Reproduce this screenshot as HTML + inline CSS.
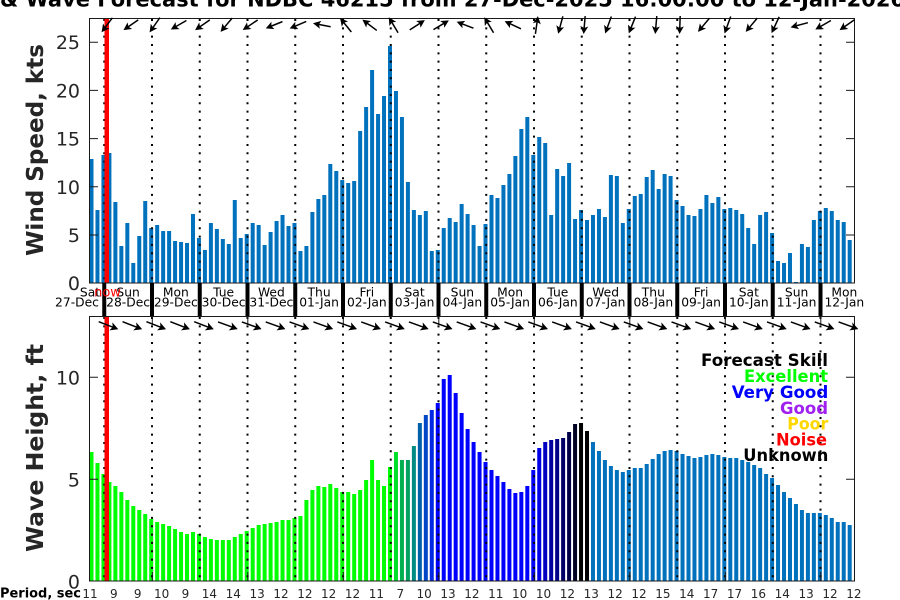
<!DOCTYPE html>
<html><head><meta charset="utf-8"><style>html,body{margin:0;padding:0;background:#fff}svg{display:block}text{font-family:"DejaVu Sans","Liberation Sans",sans-serif}</style></head>
<body>
<svg width="900" height="600" viewBox="0 0 900 600" xmlns="http://www.w3.org/2000/svg">
<defs>
<g id="wa"><line x1="-9" y1="0" x2="4" y2="0" stroke="#000" stroke-width="1.5"/><polygon points="9,0 1.2,-4 3,0 1.2,4" fill="#000"/></g>
<g id="va"><line x1="-10.5" y1="0" x2="5" y2="0" stroke="#000" stroke-width="1.5"/><polygon points="10.5,0 2.5,-4.3 4.5,0 2.5,4.3" fill="#000"/></g>
</defs>
<rect width="900" height="600" fill="#fff"/>
<text x="-6" y="6.7" font-size="21" font-weight="bold" text-anchor="end">Wind</text>
<text x="0" y="6.7" font-size="21" font-weight="bold" textLength="905" lengthAdjust="spacingAndGlyphs">&amp; Wave Forecast for NDBC 46215 from 27-Dec-2025 16:00:00 to 12-Jan-2026</text>

<!-- TOP BARS -->
<g fill="#0072bd">
<rect x="89.5" y="159" width="4" height="124"/><rect x="95.47" y="210" width="4" height="73"/><rect x="101.44" y="155" width="4" height="128"/><rect x="107.41" y="153" width="4" height="130"/><rect x="113.38" y="202" width="4" height="81"/><rect x="119.35" y="246" width="4" height="37"/><rect x="125.32" y="223" width="4" height="60"/><rect x="131.29" y="263" width="4" height="20"/><rect x="137.26" y="236" width="4" height="47"/><rect x="143.23" y="201" width="4" height="82"/>
<rect x="149.2" y="228" width="4" height="55"/><rect x="155.17" y="225" width="4" height="58"/><rect x="161.14" y="231" width="4" height="52"/><rect x="167.11" y="231" width="4" height="52"/><rect x="173.08" y="241" width="4" height="42"/><rect x="179.05" y="242" width="4" height="41"/><rect x="185.02" y="243" width="4" height="40"/><rect x="190.99" y="214" width="4" height="69"/><rect x="196.96" y="238" width="4" height="45"/><rect x="202.93" y="250" width="4" height="33"/>
<rect x="208.9" y="223" width="4" height="60"/><rect x="214.87" y="229" width="4" height="54"/><rect x="220.84" y="239" width="4" height="44"/><rect x="226.81" y="244" width="4" height="39"/><rect x="232.78" y="200" width="4" height="83"/><rect x="238.75" y="238" width="4" height="45"/><rect x="244.72" y="234" width="4" height="49"/><rect x="250.69" y="223" width="4" height="60"/><rect x="256.66" y="225" width="4" height="58"/><rect x="262.63" y="245" width="4" height="38"/>
<rect x="268.6" y="232" width="4" height="51"/><rect x="274.57" y="221" width="4" height="62"/><rect x="280.54" y="215" width="4" height="68"/><rect x="286.51" y="226" width="4" height="57"/><rect x="292.48" y="223" width="4" height="60"/><rect x="298.45" y="251" width="4" height="32"/><rect x="304.42" y="246" width="4" height="37"/><rect x="310.39" y="212" width="4" height="71"/><rect x="316.36" y="199" width="4" height="84"/><rect x="322.33" y="195" width="4" height="88"/>
<rect x="328.3" y="164" width="4" height="119"/><rect x="334.27" y="171" width="4" height="112"/><rect x="340.24" y="180" width="4" height="103"/><rect x="346.21" y="183" width="4" height="100"/><rect x="352.18" y="181" width="4" height="102"/><rect x="358.15" y="131" width="4" height="152"/><rect x="364.12" y="107" width="4" height="176"/><rect x="370.09" y="70" width="4" height="213"/><rect x="376.06" y="114" width="4" height="169"/><rect x="382.03" y="96" width="4" height="187"/>
<rect x="388" y="46" width="4" height="237"/><rect x="393.97" y="91" width="4" height="192"/><rect x="399.94" y="117" width="4" height="166"/><rect x="405.91" y="182" width="4" height="101"/><rect x="411.88" y="210" width="4" height="73"/><rect x="417.85" y="215" width="4" height="68"/><rect x="423.82" y="211" width="4" height="72"/><rect x="429.79" y="251" width="4" height="32"/><rect x="435.76" y="250" width="4" height="33"/><rect x="441.73" y="228" width="4" height="55"/>
<rect x="447.7" y="218" width="4" height="65"/><rect x="453.67" y="222" width="4" height="61"/><rect x="459.64" y="204" width="4" height="79"/><rect x="465.61" y="214" width="4" height="69"/><rect x="471.58" y="225" width="4" height="58"/><rect x="477.55" y="246" width="4" height="37"/><rect x="483.52" y="224" width="4" height="59"/><rect x="489.49" y="195" width="4" height="88"/><rect x="495.46" y="198" width="4" height="85"/><rect x="501.43" y="185" width="4" height="98"/>
<rect x="507.4" y="174" width="4" height="109"/><rect x="513.37" y="156" width="4" height="127"/><rect x="519.34" y="129" width="4" height="154"/><rect x="525.31" y="117" width="4" height="166"/><rect x="531.28" y="155" width="4" height="128"/><rect x="537.25" y="137" width="4" height="146"/><rect x="543.22" y="143" width="4" height="140"/><rect x="549.19" y="215" width="4" height="68"/><rect x="555.16" y="169" width="4" height="114"/><rect x="561.13" y="176" width="4" height="107"/>
<rect x="567.1" y="163" width="4" height="120"/><rect x="573.07" y="219" width="4" height="64"/><rect x="579.04" y="210" width="4" height="73"/><rect x="585.01" y="220" width="4" height="63"/><rect x="590.98" y="215" width="4" height="68"/><rect x="596.95" y="209" width="4" height="74"/><rect x="602.92" y="217" width="4" height="66"/><rect x="608.89" y="175" width="4" height="108"/><rect x="614.86" y="176" width="4" height="107"/><rect x="620.83" y="223" width="4" height="60"/>
<rect x="626.8" y="209" width="4" height="74"/><rect x="632.77" y="196" width="4" height="87"/><rect x="638.74" y="194" width="4" height="89"/><rect x="644.71" y="177" width="4" height="106"/><rect x="650.68" y="170" width="4" height="113"/><rect x="656.65" y="189" width="4" height="94"/><rect x="662.62" y="174" width="4" height="109"/><rect x="668.59" y="176" width="4" height="107"/><rect x="674.56" y="200" width="4" height="83"/><rect x="680.53" y="206" width="4" height="77"/>
<rect x="686.5" y="215" width="4" height="68"/><rect x="692.47" y="216" width="4" height="67"/><rect x="698.44" y="209" width="4" height="74"/><rect x="704.41" y="195" width="4" height="88"/><rect x="710.38" y="203" width="4" height="80"/><rect x="716.35" y="197" width="4" height="86"/><rect x="722.32" y="209" width="4" height="74"/><rect x="728.29" y="208" width="4" height="75"/><rect x="734.26" y="210" width="4" height="73"/><rect x="740.23" y="214" width="4" height="69"/>
<rect x="746.2" y="228" width="4" height="55"/><rect x="752.17" y="244" width="4" height="39"/><rect x="758.14" y="215" width="4" height="68"/><rect x="764.11" y="212" width="4" height="71"/><rect x="770.08" y="233" width="4" height="50"/><rect x="776.05" y="261" width="4" height="22"/><rect x="782.02" y="263" width="4" height="20"/><rect x="787.99" y="253" width="4" height="30"/><rect x="793.96" y="282" width="4" height="1"/><rect x="799.93" y="244" width="4" height="39"/>
<rect x="805.9" y="247" width="4" height="36"/><rect x="811.87" y="220" width="4" height="63"/><rect x="817.84" y="211" width="4" height="72"/><rect x="823.81" y="208" width="4" height="75"/><rect x="829.78" y="211" width="4" height="72"/><rect x="835.75" y="220" width="4" height="63"/><rect x="841.72" y="222" width="4" height="61"/><rect x="847.69" y="240" width="4" height="43"/>
</g>

<!-- BOTTOM BARS -->
<g fill="#00ff00">
<rect x="89.5" y="452" width="4" height="129"/><rect x="95.47" y="463" width="4" height="118"/><rect x="101.44" y="474" width="4" height="107"/><rect x="107.41" y="482" width="4" height="99"/><rect x="113.38" y="486" width="4" height="95"/><rect x="119.35" y="492" width="4" height="89"/><rect x="125.32" y="500" width="4" height="81"/><rect x="131.29" y="506" width="4" height="75"/><rect x="137.26" y="510" width="4" height="71"/><rect x="143.23" y="514" width="4" height="67"/>
<rect x="149.2" y="519" width="4" height="62"/><rect x="155.17" y="522" width="4" height="59"/><rect x="161.14" y="524" width="4" height="57"/><rect x="167.11" y="526" width="4" height="55"/><rect x="173.08" y="529" width="4" height="52"/><rect x="179.05" y="532" width="4" height="49"/><rect x="185.02" y="534" width="4" height="47"/><rect x="190.99" y="532" width="4" height="49"/><rect x="196.96" y="534" width="4" height="47"/><rect x="202.93" y="537" width="4" height="44"/>
<rect x="208.9" y="539" width="4" height="42"/><rect x="214.87" y="540" width="4" height="41"/><rect x="220.84" y="540" width="4" height="41"/><rect x="226.81" y="540" width="4" height="41"/><rect x="232.78" y="537" width="4" height="44"/><rect x="238.75" y="534" width="4" height="47"/><rect x="244.72" y="531" width="4" height="50"/><rect x="250.69" y="528" width="4" height="53"/><rect x="256.66" y="525" width="4" height="56"/><rect x="262.63" y="524" width="4" height="57"/>
<rect x="268.6" y="523" width="4" height="58"/><rect x="274.57" y="522" width="4" height="59"/><rect x="280.54" y="520" width="4" height="61"/><rect x="286.51" y="520" width="4" height="61"/><rect x="292.48" y="518" width="4" height="63"/><rect x="298.45" y="516" width="4" height="65"/><rect x="304.42" y="500" width="4" height="81"/><rect x="310.39" y="490" width="4" height="91"/><rect x="316.36" y="486" width="4" height="95"/><rect x="322.33" y="487" width="4" height="94"/>
<rect x="328.3" y="484" width="4" height="97"/><rect x="334.27" y="488" width="4" height="93"/><rect x="340.24" y="492" width="4" height="89"/><rect x="346.21" y="492" width="4" height="89"/><rect x="352.18" y="494" width="4" height="87"/><rect x="358.15" y="490" width="4" height="91"/><rect x="364.12" y="480" width="4" height="101"/><rect x="370.09" y="460" width="4" height="121"/><rect x="376.06" y="480" width="4" height="101"/><rect x="382.03" y="486" width="4" height="95"/>
<rect x="388" y="467" width="4" height="114"/>
</g>
<rect x="393.97" y="452" width="4" height="129" fill="#00e028"/>
<rect x="399.94" y="460" width="4" height="121" fill="#00b050"/>
<rect x="405.91" y="460" width="4" height="121" fill="#00a060"/>
<rect x="411.88" y="446" width="4" height="135" fill="#008a84"/>
<rect x="417.85" y="423" width="4" height="158" fill="#0060a8"/>
<rect x="423.82" y="415" width="4" height="166" fill="#0048c8"/>
<rect x="429.79" y="410" width="4" height="171" fill="#0028e4"/>
<g fill="#0000ff">
<rect x="435.76" y="403" width="4" height="178"/><rect x="441.73" y="379" width="4" height="202"/><rect x="447.7" y="375" width="4" height="206"/><rect x="453.67" y="393" width="4" height="188"/><rect x="459.64" y="413" width="4" height="168"/><rect x="465.61" y="429" width="4" height="152"/><rect x="471.58" y="442" width="4" height="139"/><rect x="477.55" y="452" width="4" height="129"/><rect x="483.52" y="462" width="4" height="119"/><rect x="489.49" y="470" width="4" height="111"/>
<rect x="495.46" y="476" width="4" height="105"/><rect x="501.43" y="482" width="4" height="99"/><rect x="507.4" y="489" width="4" height="92"/><rect x="513.37" y="493" width="4" height="88"/><rect x="519.34" y="492" width="4" height="89"/><rect x="525.31" y="486" width="4" height="95"/><rect x="531.28" y="470" width="4" height="111"/>
</g>
<rect x="537.25" y="448" width="4" height="133" fill="#0000e6"/>
<rect x="543.22" y="442" width="4" height="139" fill="#0000c0"/>
<rect x="549.19" y="440" width="4" height="141" fill="#0000a0"/>
<rect x="555.16" y="439" width="4" height="142" fill="#000088"/>
<rect x="561.13" y="438" width="4" height="143" fill="#000068"/>
<rect x="567.1" y="432" width="4" height="149" fill="#000048"/>
<rect x="573.07" y="424" width="4" height="157" fill="#000024"/>
<rect x="579.04" y="423" width="4" height="158" fill="#000000"/>
<rect x="585.01" y="431" width="4" height="150" fill="#000000"/>
<g fill="#0072bd">
<rect x="590.98" y="442" width="4" height="139"/><rect x="596.95" y="451" width="4" height="130"/><rect x="602.92" y="460" width="4" height="121"/><rect x="608.89" y="466" width="4" height="115"/><rect x="614.86" y="470" width="4" height="111"/><rect x="620.83" y="472" width="4" height="109"/>
<rect x="626.8" y="470" width="4" height="111"/><rect x="632.77" y="468" width="4" height="113"/><rect x="638.74" y="468" width="4" height="113"/><rect x="644.71" y="464" width="4" height="117"/><rect x="650.68" y="459" width="4" height="122"/><rect x="656.65" y="454" width="4" height="127"/><rect x="662.62" y="451" width="4" height="130"/><rect x="668.59" y="450" width="4" height="131"/><rect x="674.56" y="451" width="4" height="130"/><rect x="680.53" y="454" width="4" height="127"/>
<rect x="686.5" y="456" width="4" height="125"/><rect x="692.47" y="458" width="4" height="123"/><rect x="698.44" y="457" width="4" height="124"/><rect x="704.41" y="455" width="4" height="126"/><rect x="710.38" y="454" width="4" height="127"/><rect x="716.35" y="455" width="4" height="126"/><rect x="722.32" y="457" width="4" height="124"/><rect x="728.29" y="458" width="4" height="123"/><rect x="734.26" y="458" width="4" height="123"/><rect x="740.23" y="460" width="4" height="121"/>
<rect x="746.2" y="462" width="4" height="119"/><rect x="752.17" y="465" width="4" height="116"/><rect x="758.14" y="468" width="4" height="113"/><rect x="764.11" y="474" width="4" height="107"/><rect x="770.08" y="478" width="4" height="103"/><rect x="776.05" y="485" width="4" height="96"/><rect x="782.02" y="492" width="4" height="89"/><rect x="787.99" y="498" width="4" height="83"/><rect x="793.96" y="504" width="4" height="77"/><rect x="799.93" y="510" width="4" height="71"/>
<rect x="805.9" y="513" width="4" height="68"/><rect x="811.87" y="513" width="4" height="68"/><rect x="817.84" y="513" width="4" height="68"/><rect x="823.81" y="515" width="4" height="66"/><rect x="829.78" y="518" width="4" height="63"/><rect x="835.75" y="522" width="4" height="59"/><rect x="841.72" y="522" width="4" height="59"/><rect x="847.69" y="525" width="4" height="56"/>
</g>

<!-- DOTTED DAY LINES -->
<g stroke="#000" stroke-width="2" stroke-dasharray="2 6.33">
<path d="M104.25 19V283M152 19V283M199.75 19V283M247.5 19V283M295.25 19V283M343 19V283M390.75 19V283M438.5 19V283M486.25 19V283M534 19V283M581.75 19V283M629.5 19V283M677.25 19V283M725 19V283M772.75 19V283M820.5 19V283"/>
<path d="M104.25 317V581M152 317V581M199.75 317V581M247.5 317V581M295.25 317V581M343 317V581M390.75 317V581M438.5 317V581M486.25 317V581M534 317V581M581.75 317V581M629.5 317V581M677.25 317V581M725 317V581M772.75 317V581M820.5 317V581"/>
</g>

<!-- NOW LINE -->
<rect x="104.5" y="18" width="4.5" height="265" fill="#ff0000"/>
<rect x="104.5" y="316" width="4.5" height="265" fill="#ff0000"/>

<!-- AXES FRAMES -->
<g fill="none" stroke="#1a1a1a" stroke-width="1">
<rect x="89.5" y="18.5" width="765" height="264.5"/>
<rect x="89.5" y="316.5" width="765" height="264.5"/>
<path d="M89.5 235H98M89.5 186.8H98M89.5 138.6H98M89.5 90.4H98M89.5 42.2H98M854.5 235H846M854.5 186.8H846M854.5 138.6H846M854.5 90.4H846M854.5 42.2H846"/>
<path d="M89.5 479.3H98M89.5 377.3H98M854.5 479.3H846M854.5 377.3H846"/>
<path d="M152.3 581V572M247.8 581V572M343.3 581V572M438.8 581V572M534.3 581V572M629.8 581V572M725.3 581V572M820.8 581V572"/>
<path d="M152.3 316V325M247.8 316V325M343.3 316V325M438.8 316V325M534.3 316V325M629.8 316V325M725.3 316V325M820.8 316V325"/>
</g>

<!-- DAY SEPARATORS -->
<g fill="#000">
<rect x="102.25" y="283" width="4" height="33"/><rect x="150" y="283" width="4" height="33"/><rect x="197.75" y="283" width="4" height="33"/><rect x="245.5" y="283" width="4" height="33"/><rect x="293.25" y="283" width="4" height="33"/><rect x="341" y="283" width="4" height="33"/><rect x="388.75" y="283" width="4" height="33"/><rect x="436.5" y="283" width="4" height="33"/><rect x="484.25" y="283" width="4" height="33"/><rect x="532" y="283" width="4" height="33"/><rect x="579.75" y="283" width="4" height="33"/><rect x="627.5" y="283" width="4" height="33"/><rect x="675.25" y="283" width="4" height="33"/><rect x="723" y="283" width="4" height="33"/><rect x="770.75" y="283" width="4" height="33"/><rect x="818.5" y="283" width="4" height="33"/>
</g>

<!-- DAY LABELS -->
<g font-size="12.3" fill="#000" text-anchor="middle">
<text x="90" y="296.7">Sat</text><text x="77" y="306.7">27-Dec</text>
<text x="128.1" y="296.7">Sun</text><text x="128.1" y="306.7">28-Dec</text>
<text x="175.85" y="296.7">Mon</text><text x="175.85" y="306.7">29-Dec</text>
<text x="223.6" y="296.7">Tue</text><text x="223.6" y="306.7">30-Dec</text>
<text x="271.35" y="296.7">Wed</text><text x="271.35" y="306.7">31-Dec</text>
<text x="319.1" y="296.7">Thu</text><text x="319.1" y="306.7">01-Jan</text>
<text x="366.85" y="296.7">Fri</text><text x="366.85" y="306.7">02-Jan</text>
<text x="414.6" y="296.7">Sat</text><text x="414.6" y="306.7">03-Jan</text>
<text x="462.35" y="296.7">Sun</text><text x="462.35" y="306.7">04-Jan</text>
<text x="510.1" y="296.7">Mon</text><text x="510.1" y="306.7">05-Jan</text>
<text x="557.85" y="296.7">Tue</text><text x="557.85" y="306.7">06-Jan</text>
<text x="605.6" y="296.7">Wed</text><text x="605.6" y="306.7">07-Jan</text>
<text x="653.35" y="296.7">Thu</text><text x="653.35" y="306.7">08-Jan</text>
<text x="701.1" y="296.7">Fri</text><text x="701.1" y="306.7">09-Jan</text>
<text x="748.85" y="296.7">Sat</text><text x="748.85" y="306.7">10-Jan</text>
<text x="796.6" y="296.7">Sun</text><text x="796.6" y="306.7">11-Jan</text>
<text x="844.35" y="296.7">Mon</text><text x="844.35" y="306.7">12-Jan</text>
</g>
<text x="107.5" y="296.7" font-size="13" fill="#ff0000" text-anchor="middle">now</text>

<!-- WIND ARROWS -->
<use href="#wa" transform="translate(107,25) rotate(127)"/>
<use href="#wa" transform="translate(130.87,25) rotate(145)"/>
<use href="#wa" transform="translate(154.74,25) rotate(125)"/>
<use href="#wa" transform="translate(178.61,25) rotate(150)"/>
<use href="#wa" transform="translate(202.48,25) rotate(145)"/>
<use href="#wa" transform="translate(226.35,25) rotate(130)"/>
<use href="#wa" transform="translate(250.22,25) rotate(146)"/>
<use href="#wa" transform="translate(274.09,25) rotate(158)"/>
<use href="#wa" transform="translate(297.96,25) rotate(157)"/>
<use href="#wa" transform="translate(321.83,25) rotate(191)"/>
<use href="#wa" transform="translate(345.7,25) rotate(231)"/>
<use href="#wa" transform="translate(369.57,25) rotate(217)"/>
<use href="#wa" transform="translate(393.44,25) rotate(239)"/>
<use href="#wa" transform="translate(417.31,25) rotate(327)"/>
<use href="#wa" transform="translate(441.18,25) rotate(329)"/>
<use href="#wa" transform="translate(465.05,25) rotate(201)"/>
<use href="#wa" transform="translate(488.92,25) rotate(239)"/>
<use href="#wa" transform="translate(512.79,25) rotate(205)"/>
<use href="#wa" transform="translate(536.66,25) rotate(278)"/>
<use href="#wa" transform="translate(560.53,25) rotate(105)"/>
<use href="#wa" transform="translate(584.4,25) rotate(95)"/>
<use href="#wa" transform="translate(608.27,25) rotate(110)"/>
<use href="#wa" transform="translate(632.14,25) rotate(112)"/>
<use href="#wa" transform="translate(656.01,25) rotate(95)"/>
<use href="#wa" transform="translate(679.88,25) rotate(92)"/>
<use href="#wa" transform="translate(703.75,25) rotate(130)"/>
<use href="#wa" transform="translate(727.62,25) rotate(110)"/>
<use href="#wa" transform="translate(751.49,25) rotate(130)"/>
<use href="#wa" transform="translate(775.36,25) rotate(115)"/>
<use href="#wa" transform="translate(799.23,25) rotate(165)"/>
<use href="#wa" transform="translate(823.1,25) rotate(150)"/>
<use href="#wa" transform="translate(846.97,25) rotate(145)"/>

<!-- WAVE ARROWS -->
<use href="#va" transform="translate(108.5,325.5) rotate(21)"/>
<use href="#va" transform="translate(132.37,325.5) rotate(21)"/>
<use href="#va" transform="translate(156.24,325.5) rotate(21)"/>
<use href="#va" transform="translate(180.11,325.5) rotate(21)"/>
<use href="#va" transform="translate(203.98,325.5) rotate(21)"/>
<use href="#va" transform="translate(227.85,325.5) rotate(20)"/>
<use href="#va" transform="translate(251.72,325.5) rotate(20)"/>
<use href="#va" transform="translate(275.59,325.5) rotate(20)"/>
<use href="#va" transform="translate(299.46,325.5) rotate(20)"/>
<use href="#va" transform="translate(323.33,325.5) rotate(20)"/>
<use href="#va" transform="translate(347.2,325.5) rotate(20)"/>
<use href="#va" transform="translate(371.07,325.5) rotate(20)"/>
<use href="#va" transform="translate(394.94,325.5) rotate(20)"/>
<use href="#va" transform="translate(418.81,325.5) rotate(20)"/>
<use href="#va" transform="translate(442.68,325.5) rotate(20)"/>
<use href="#va" transform="translate(466.55,325.5) rotate(20)"/>
<use href="#va" transform="translate(490.42,325.5) rotate(20)"/>
<use href="#va" transform="translate(514.29,325.5) rotate(20)"/>
<use href="#va" transform="translate(538.16,325.5) rotate(20)"/>
<use href="#va" transform="translate(562.03,325.5) rotate(20)"/>
<use href="#va" transform="translate(585.9,325.5) rotate(20)"/>
<use href="#va" transform="translate(609.77,325.5) rotate(20)"/>
<use href="#va" transform="translate(633.64,325.5) rotate(20)"/>
<use href="#va" transform="translate(657.51,325.5) rotate(20)"/>
<use href="#va" transform="translate(681.38,325.5) rotate(20)"/>
<use href="#va" transform="translate(705.25,325.5) rotate(20)"/>
<use href="#va" transform="translate(729.12,325.5) rotate(20)"/>
<use href="#va" transform="translate(752.99,325.5) rotate(20)"/>
<use href="#va" transform="translate(776.86,325.5) rotate(20)"/>
<use href="#va" transform="translate(800.73,325.5) rotate(20)"/>
<use href="#va" transform="translate(824.6,325.5) rotate(20)"/>
<use href="#va" transform="translate(848.47,325.5) rotate(20)"/>

<!-- TICK LABELS -->
<g font-size="19" fill="#262626" text-anchor="end">
<text x="80" y="49.2">25</text><text x="80" y="97.4">20</text><text x="80" y="145.6">15</text><text x="80" y="193.8">10</text><text x="80" y="242">5</text><text x="80" y="290">0</text>
<text x="80" y="384.3">10</text><text x="80" y="486.3">5</text><text x="80" y="588.3">0</text>
</g>

<!-- Y LABELS -->
<text transform="translate(43,150) rotate(-90)" font-size="23" font-weight="bold" fill="#262626" text-anchor="middle" textLength="212" lengthAdjust="spacingAndGlyphs">Wind Speed, kts</text>
<text transform="translate(43,448) rotate(-90)" font-size="23" font-weight="bold" fill="#262626" text-anchor="middle" textLength="208" lengthAdjust="spacingAndGlyphs">Wave Height, ft</text>

<!-- LEGEND -->
<g font-size="17" font-weight="bold" text-anchor="end">
<text x="828" y="366" fill="#000" textLength="127" lengthAdjust="spacingAndGlyphs">Forecast Skill</text>
<text x="828" y="382" fill="#00ff00" textLength="84" lengthAdjust="spacingAndGlyphs">Excellent</text>
<text x="828.3" y="398" fill="#0000ff" textLength="96.6" lengthAdjust="spacingAndGlyphs">Very Good</text>
<text x="828" y="414" fill="#a020f0" textLength="48" lengthAdjust="spacingAndGlyphs">Good</text>
<text x="828.3" y="429.5" fill="#ffd700" textLength="41" lengthAdjust="spacingAndGlyphs">Poor</text>
<text x="827" y="445.5" fill="#ff0000" textLength="51" lengthAdjust="spacingAndGlyphs">Noise</text>
<text x="828.3" y="461" fill="#000" textLength="85" lengthAdjust="spacingAndGlyphs">Unknown</text>
</g>

<!-- PERIOD -->
<text x="0" y="597.5" font-size="13" font-weight="bold" fill="#000" textLength="81" lengthAdjust="spacingAndGlyphs">Period, sec</text>
<g font-size="12" fill="#262626" text-anchor="middle">
<text x="90" y="598">11</text><text x="113.87" y="598">9</text><text x="137.74" y="598">9</text><text x="161.61" y="598">10</text><text x="185.48" y="598">9</text><text x="209.35" y="598">14</text><text x="233.22" y="598">14</text><text x="257.09" y="598">13</text><text x="280.96" y="598">12</text><text x="304.83" y="598">12</text><text x="328.7" y="598">12</text>
<text x="352.57" y="598">12</text><text x="376.44" y="598">11</text><text x="400.31" y="598">7</text><text x="424.18" y="598">10</text><text x="448.05" y="598">13</text><text x="471.92" y="598">12</text><text x="495.79" y="598">11</text><text x="519.66" y="598">10</text><text x="543.53" y="598">10</text><text x="567.4" y="598">12</text><text x="591.27" y="598">13</text>
<text x="615.14" y="598">12</text><text x="639.01" y="598">12</text><text x="662.88" y="598">15</text><text x="686.75" y="598">14</text><text x="710.62" y="598">17</text><text x="734.49" y="598">17</text><text x="758.36" y="598">16</text><text x="782.23" y="598">14</text><text x="806.1" y="598">13</text><text x="829.97" y="598">12</text><text x="853.84" y="598">12</text>
</g>
</svg>
</body></html>
